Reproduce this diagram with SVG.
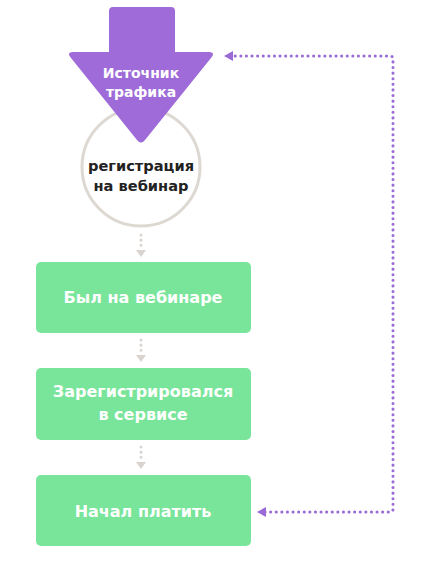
<svg xmlns="http://www.w3.org/2000/svg" width="424" height="578" viewBox="0 0 424 578">
<defs>
<style>
.box{fill:#79e59a}
.wt{fill:#fff;font-family:"DejaVu Sans",sans-serif;font-weight:700;font-size:16px;text-anchor:middle}
.ar{fill:#fff;font-family:"DejaVu Sans",sans-serif;font-weight:700;font-size:14px;text-anchor:middle}
.dk{fill:#222;font-family:"DejaVu Sans",sans-serif;font-weight:700;font-size:14.6px;text-anchor:middle}
.gd{stroke:#d9d4cf;stroke-width:3;stroke-dasharray:0.1 5;stroke-linecap:round;fill:none}
.pd{stroke:#9a6ad6;stroke-width:3;stroke-dasharray:0.1 5.5;stroke-linecap:round;fill:none}
</style>
</defs>
<rect width="424" height="578" fill="#fff"/>
<g id="circle-node">
<circle cx="141" cy="167" r="59" fill="#fff" stroke="#ddd8d2" stroke-width="3"/>
<text class="dk" x="141" y="171">регистрация</text>
<text class="dk" x="141" y="191">на вебинар</text>
</g>
<g id="source">
<path d="M113,7 H171 Q175,7 175,11 V52 H209 Q216,52 211,58 L145,140 Q141,145 137,140 L71,58 Q66,52 73,52 H109 V11 Q109,7 113,7 Z" fill="#9e6bd8"/>
<text class="ar" x="141" y="78">Источник</text>
<text class="ar" x="141" y="97">трафика</text>
</g>
<g id="n1">
<rect class="box" x="36" y="262" width="215" height="71" rx="5"/>
<text class="wt" x="143" y="303">Был на вебинаре</text>
</g>
<g id="n2">
<rect class="box" x="36" y="368" width="215" height="72" rx="5"/>
<text class="wt" x="143" y="397">Зарегистрировался</text>
<text class="wt" x="143" y="420">в сервисе</text>
</g>
<g id="n3">
<rect class="box" x="36" y="475" width="215" height="71" rx="5"/>
<text class="wt" x="143" y="517">Начал платить</text>
</g>
<g id="connectors">
<path class="gd" d="M141,235 V249"/>
<path d="M136,250 H146 L141,257 Z" fill="#d9d4cf"/>
<path class="gd" d="M141,340 V355"/>
<path d="M136,355 H146 L141,362 Z" fill="#d9d4cf"/>
<path class="gd" d="M141,447 V461"/>
<path d="M136,462 H146 L141,469 Z" fill="#d9d4cf"/>
<path class="pd" d="M265,512 H390 Q393,512 393,509 V59 Q393,56 390,56 H234"/>
<path d="M257,512 L266,507 V517 Z" fill="#9a6ad6"/>
<path d="M224,56 L233,51 V61 Z" fill="#9a6ad6"/>
</g>
</svg>
